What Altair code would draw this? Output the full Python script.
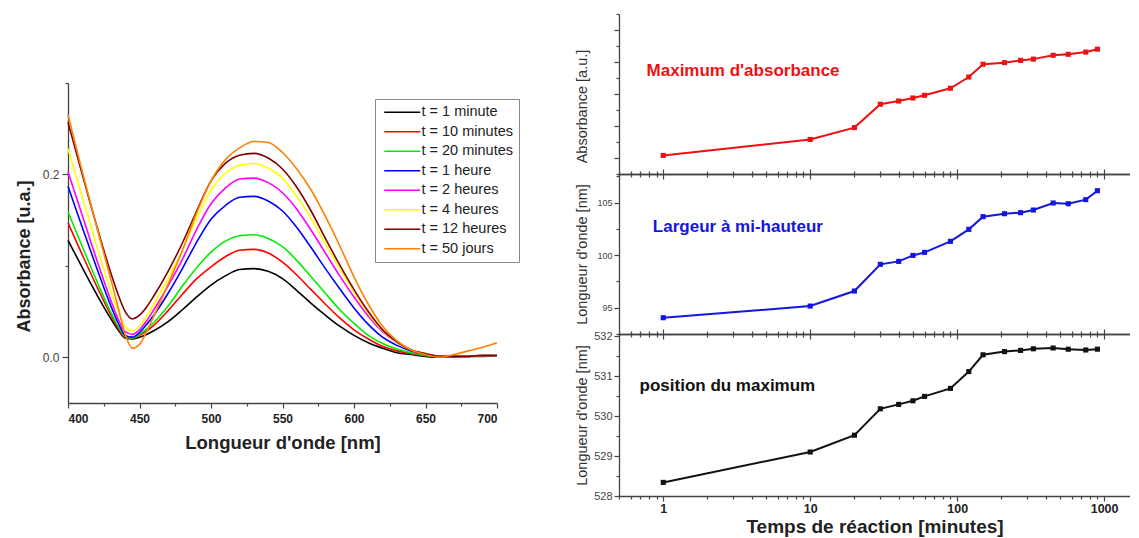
import altair as alt
import pandas as pd

FONT = "Liberation Sans"

# ---------------- left panel: absorption spectra ----------------
wavelengths = [400, 410, 420, 430, 435, 440, 445, 450, 455, 460,
               470, 480, 490, 500, 510, 520, 530, 540, 550, 560,
               570, 580, 590, 600, 610, 620, 630, 640, 650, 660,
               670, 680, 690, 700]

spec_1min = [0.128, 0.098, 0.069, 0.042, 0.030, 0.021, 0.020, 0.022, 0.025, 0.029,
             0.039, 0.052, 0.066, 0.079, 0.089, 0.096, 0.097, 0.094, 0.086, 0.073,
             0.059, 0.046, 0.034, 0.024, 0.016, 0.010, 0.005, 0.003, 0.001, 0.000,
             0.000, 0.001, 0.001, 0.002]
spec_10min = [0.147, 0.112, 0.078, 0.046, 0.032, 0.022, 0.021, 0.024, 0.029, 0.035,
              0.051, 0.069, 0.086, 0.099, 0.110, 0.117, 0.118, 0.114, 0.104, 0.090,
              0.074, 0.058, 0.043, 0.030, 0.020, 0.012, 0.007, 0.004, 0.002, 0.001,
              0.001, 0.001, 0.002, 0.002]
spec_20min = [0.159, 0.121, 0.084, 0.049, 0.034, 0.023, 0.021, 0.025, 0.031, 0.038,
              0.056, 0.078, 0.098, 0.115, 0.127, 0.133, 0.134, 0.130, 0.121, 0.106,
              0.088, 0.070, 0.052, 0.037, 0.024, 0.015, 0.009, 0.005, 0.002, 0.001,
              0.001, 0.001, 0.002, 0.002]
spec_1h = [0.187, 0.142, 0.098, 0.056, 0.038, 0.024, 0.022, 0.027, 0.036, 0.046,
           0.070, 0.097, 0.126, 0.151, 0.166, 0.175, 0.176, 0.171, 0.160, 0.142,
           0.120, 0.097, 0.075, 0.054, 0.036, 0.022, 0.013, 0.007, 0.003, 0.001,
           0.001, 0.001, 0.002, 0.002]
spec_2h = [0.203, 0.155, 0.107, 0.062, 0.042, 0.028, 0.025, 0.030, 0.040, 0.052,
           0.078, 0.107, 0.140, 0.168, 0.185, 0.195, 0.196, 0.191, 0.180, 0.162,
           0.139, 0.114, 0.089, 0.066, 0.045, 0.028, 0.016, 0.008, 0.004, 0.001,
           0.001, 0.001, 0.002, 0.002]
spec_4h = [0.228, 0.175, 0.122, 0.072, 0.050, 0.033, 0.029, 0.034, 0.045, 0.058,
           0.086, 0.117, 0.152, 0.183, 0.201, 0.210, 0.212, 0.207, 0.196, 0.176,
           0.152, 0.124, 0.097, 0.071, 0.048, 0.029, 0.016, 0.008, 0.004, 0.001,
           0.001, 0.001, 0.002, 0.002]
spec_12h = [0.257, 0.200, 0.144, 0.092, 0.069, 0.050, 0.042, 0.046, 0.055, 0.067,
            0.094, 0.125, 0.160, 0.193, 0.212, 0.221, 0.223, 0.218, 0.206, 0.186,
            0.160, 0.130, 0.101, 0.074, 0.050, 0.030, 0.017, 0.008, 0.004, 0.001,
            0.001, 0.001, 0.002, 0.002]
spec_50d = [0.265, 0.203, 0.143, 0.085, 0.055, 0.025, 0.010, 0.014, 0.028, 0.045,
            0.080, 0.117, 0.158, 0.193, 0.216, 0.229, 0.236, 0.235, 0.224, 0.206,
            0.183, 0.154, 0.122, 0.088, 0.058, 0.034, 0.018, 0.008, 0.003, 0.000,
            0.003, 0.007, 0.011, 0.016]

series_names = ["t = 1 minute", "t = 10 minutes", "t = 20 minutes", "t = 1 heure",
                "t = 2 heures", "t = 4 heures", "t = 12 heures", "t = 50 jours"]
series_values = [spec_1min, spec_10min, spec_20min, spec_1h,
                 spec_2h, spec_4h, spec_12h, spec_50d]
series_colors = ["#000000", "#ff0000", "#00ee00", "#0000ff",
                 "#ff00ff", "#ffff00", "#800000", "#ff8000"]

left_x_ticks = [400, 425, 450, 475, 500, 525, 550, 575, 600, 625, 650, 675, 700]
left_y_ticks = [0.0, 0.1, 0.2, 0.3]

# ---------------- right panels: kinetics ----------------
times = [1, 10, 20, 30, 40, 50, 60, 90, 120, 150, 210, 270, 330, 450, 570, 750, 900]
abs_max = [0.58, 1.08, 1.45, 2.18, 2.28, 2.375, 2.46, 2.68, 3.03, 3.43,
           3.48, 3.55, 3.59, 3.71, 3.74, 3.81, 3.90]
fwhm = [94.05, 95.16, 96.59, 99.13, 99.41, 99.98, 100.27, 101.32, 102.46, 103.67,
        103.95, 104.05, 104.30, 104.97, 104.90, 105.29, 106.14]
peak_pos = [528.34, 529.10, 529.52, 530.18, 530.29, 530.38, 530.49, 530.69, 531.11, 531.53,
            531.61, 531.64, 531.68, 531.70, 531.67, 531.65, 531.67]

time_ticks = [0.5, 0.6, 0.7, 0.8, 0.9, 1, 2, 3, 4, 5, 6, 7, 8, 9,
              10, 20, 30, 40, 50, 60, 70, 80, 90,
              100, 200, 300, 400, 500, 600, 700, 800, 900, 1000]
abs_ticks = [0, 0.5, 1, 1.5, 2, 2.5, 3, 3.5, 4, 4.5, 5]
fwhm_ticks = [92.5, 95, 97.5, 100, 102.5, 105, 107.5]
pos_ticks = [528, 528.5, 529, 529.5, 530, 530.5, 531, 531.5, 532]

AXIS_LINE = dict(domain=True, domainColor="#444", domainWidth=1.3, domainOpacity=1,
                 ticks=True, tickColor="#444", tickWidth=1.2)

# ---------------- left chart ----------------
rows = []
for name, vals in zip(series_names, series_values):
    for w, a in zip(wavelengths, vals):
        rows.append({"serie": name, "wl": w, "A": a})
spec_df = pd.DataFrame(rows)

left_chart = alt.Chart(spec_df).mark_line(
    strokeWidth=1.6, interpolate="monotone"
).encode(
    x=alt.X("wl:Q",
            scale=alt.Scale(domain=[400, 700], nice=False, zero=False),
            axis=alt.Axis(values=left_x_ticks,
                          labelExpr="datum.value % 50 == 0 ? format(datum.value, 'd') : ''",
                          tickSize={"condition": {"test": "datum.value % 50 == 0", "value": 5}, "value": 3},
                          labelFontWeight="bold", labelFontSize=12, labelColor="#222",
                          labelPadding=5, title="Longueur d'onde [nm]",
                          titleFontSize=18.5, titleFontWeight="bold", titleColor="#222",
                          titlePadding=9, **AXIS_LINE)),
    y=alt.Y("A:Q",
            scale=alt.Scale(domain=[-0.05, 0.3], nice=False, zero=False),
            axis=alt.Axis(values=left_y_ticks,
                          labelExpr="(datum.value == 0 || datum.value == 0.2) ? format(datum.value, '.1f') : ''",
                          tickSize={"condition": {"test": "datum.value == 0 || datum.value == 0.2", "value": 6}, "value": 3},
                          labelFontSize=12, labelColor="#444", labelPadding=3,
                          title="Absorbance [u.a.]", titleFontSize=18, titleFontWeight="bold",
                          titleColor="#222", titleX=-44, titleY=173, titleBaseline="middle",
                          **AXIS_LINE)),
    color=alt.Color("serie:N",
                    scale=alt.Scale(domain=series_names, range=series_colors),
                    sort=series_names,
                    legend=alt.Legend(title=None, orient="none", legendX=307, legendY=85,
                                      symbolType="M-3,0H3", symbolSize=144,
                                      symbolStrokeWidth=1.6, symbolOffset=14,
                                      labelOffset=12, labelFontSize=14.5, labelFont=FONT,
                                      labelColor="#222", rowPadding=4.5, padding=6,
                                      fillColor="white", strokeColor="#888")),
    order=alt.Order("order:Q"),
).transform_calculate(
    order="indexof(%s, datum.serie)" % str(series_names)
).properties(width=429, height=320)

spacer = alt.Chart(pd.DataFrame({"s": [0]})).mark_point(size=1, opacity=0).encode(
    x=alt.value(10), y=alt.value(10)
).properties(width=20, height=69)

left_col = alt.vconcat(spacer, left_chart, spacing=0, bounds="flush")

# ---------------- right chart ----------------
time_scale = alt.Scale(type="log", domain=[0.5, 1500], nice=False)
x_major_test = "indexof([1, 10, 100, 1000], datum.value) >= 0"
x_tick_size = {"condition": {"test": x_major_test, "value": 5}, "value": 3}


def time_panel(values, color, y_title, title_y, y_domain, y_ticks, major_test, label_expr,
               label_size, text, text_t, text_v, height, top_axis, bottom_labels):
    df = pd.DataFrame({"t": times, "v": values})
    y_scale = alt.Scale(domain=y_domain, nice=False, zero=False)
    y_axis_kw = dict(values=y_ticks, title=y_title, titleFontSize=14.5, titleColor="#333",
                     titleFontWeight="normal", titleX=-36.7, titleY=title_y,
                     titleBaseline="middle",
                     tickSize={"condition": {"test": major_test, "value": 5}, "value": 3},
                     labelFontSize=label_size, labelColor="#444", labelPadding=2, **AXIS_LINE)
    if label_expr is None:
        y_axis_kw["labels"] = False
    else:
        y_axis_kw["labelExpr"] = label_expr
    y_axis = alt.Axis(**y_axis_kw)
    if bottom_labels:
        bottom_axis = alt.Axis(orient="bottom", values=time_ticks, tickSize=x_tick_size,
                               labelExpr=x_major_test + " ? format(datum.value, 'd') : ''",
                               labelFontWeight="bold", labelFontSize=12.5, labelColor="#222",
                               labelPadding=1, title="Temps de réaction [minutes]",
                               titleFontSize=19, titleFontWeight="bold", titleColor="#222",
                               titlePadding=3, **AXIS_LINE)
    else:
        bottom_axis = alt.Axis(orient="bottom", values=time_ticks, tickSize=x_tick_size,
                               labels=False, title=None, **AXIS_LINE)
    if top_axis:
        t_axis = alt.Axis(orient="top", values=time_ticks, tickSize=x_tick_size,
                          labels=False, title=None, **AXIS_LINE)
    else:
        t_axis = None

    line = alt.Chart(df).mark_line(color=color, strokeWidth=2).encode(
        x=alt.X("t:Q", scale=time_scale, axis=bottom_axis),
        y=alt.Y("v:Q", scale=y_scale, axis=y_axis),
    )
    pts = alt.Chart(df).mark_square(color=color, size=26, opacity=1).encode(
        x=alt.X("t:Q", scale=time_scale, axis=t_axis),
        y=alt.Y("v:Q", scale=y_scale, axis=None),
    )
    lab = alt.Chart(pd.DataFrame({"t": [text_t], "v": [text_v], "txt": [text]})).mark_text(
        align="left", baseline="middle", font=FONT, fontSize=17, fontWeight="bold", color=color
    ).encode(
        x=alt.X("t:Q", scale=time_scale, axis=None),
        y=alt.Y("v:Q", scale=y_scale, axis=None),
        text="txt:N",
    )
    return alt.layer(line, pts, lab).resolve_axis(x="independent", y="independent").properties(
        width=511, height=height)


top_panel = time_panel(abs_max, "#ee1111", "Absorbance [a.u.]", 92, [0, 5], abs_ticks,
                       "datum.value % 1 == 0.5", None, 10,
                       "Maximum d'absorbance", 0.77, 3.22, 160, False, False)
mid_panel = time_panel(fwhm, "#1515e0", "Longueur d'onde [nm]", 80, [92.5, 107.73], fwhm_ticks,
                       "datum.value % 5 == 0",
                       "datum.value % 5 == 0 ? format(datum.value, 'd') : ''", 9,
                       "Largeur à mi-hauteur", 0.85, 102.69, 160, True, False)
bot_panel = time_panel(peak_pos, "#111111", "Longueur d'onde [nm]", 81, [528, 532.05], pos_ticks,
                       "datum.value % 1 == 0",
                       "datum.value % 1 == 0 ? format(datum.value, 'd') : ''", 11,
                       "position du maximum", 0.69, 530.74, 162, True, True)

right_col = alt.vconcat(top_panel, mid_panel, bot_panel, spacing=0, bounds="flush")

chart = alt.hconcat(left_col, right_col, spacing=73).properties(
    padding={"left": 7, "top": 5, "right": 0, "bottom": 0},
    background="white",
).configure_view(stroke=None).configure_axis(
    grid=False, labelFont=FONT, titleFont=FONT,
    domainColor="#444", tickColor="#444", domainWidth=1.3, tickWidth=1.2,
).configure_text(font=FONT)

chart.save("out.html", embed_options={"renderer": "svg", "actions": False})
